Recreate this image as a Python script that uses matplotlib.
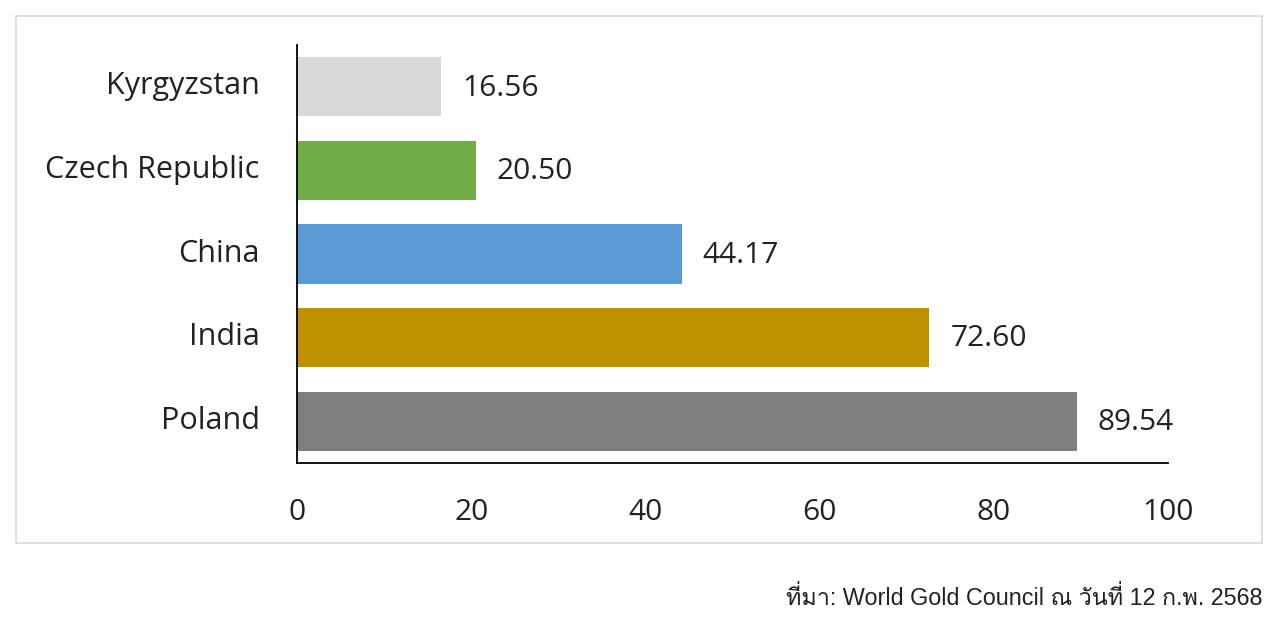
import matplotlib
matplotlib.use("Agg")
import matplotlib.pyplot as plt
import matplotlib.transforms as mtransforms
from matplotlib import font_manager
from matplotlib.patches import Rectangle

categories = ["Poland", "India", "China", "Czech Republic", "Kyrgyzstan"]
values = [89.54, 72.60, 44.17, 20.50, 16.56]
colors = ["#7F7F7F", "#BF9000", "#5B9BD5", "#70AD47", "#D9D9D9"]
xticks = [0, 20, 40, 60, 80, 100]
source_text = "ที่มา: World Gold Council ณ วันที่ 12 ก.พ. 2568"

# find a font with Thai coverage
thai_family = None
try:
    from fontTools.ttLib import TTFont
    for fe in font_manager.fontManager.ttflist:
        try:
            f = TTFont(fe.fname, fontNumber=0, lazy=True)
            cmap = f.getBestCmap()
            if cmap and 0x0E17 in cmap and 0x0E21 in cmap:
                thai_family = fe.name
                break
        except Exception:
            continue
except Exception:
    pass

main_font = ["Open Sans", "DejaVu Sans"]
foot_font = ["Liberation Sans"] + ([thai_family] if thai_family else []) + ["DejaVu Sans"]

fig = plt.figure(figsize=(12.8, 6.23), dpi=100)
fig.patch.set_facecolor("white")

# outer frame
fig.add_artist(Rectangle((16/1280, 1-543/623), (1262-16)/1280, (543-16)/623,
                         transform=fig.transFigure, fill=False,
                         edgecolor="#D9D9D9", linewidth=1.2))

ax = fig.add_axes([297/1280, 1-463/623, (1168-297)/1280, (463-45)/623])
y = list(range(len(categories)))
ax.barh(y, values, height=0.71, color=colors)
ax.set_xlim(0, 100)
ax.set_ylim(-0.5, len(categories) - 0.5)
ax.set_xticks(xticks)
ax.set_xticklabels([str(t) for t in xticks], fontsize=21.5, family=main_font, color="#222222")
ax.set_yticks(y)
ax.set_yticklabels(categories, fontsize=22, family=main_font, color="#222222")
ax.tick_params(axis="x", length=0, pad=25)
ax.tick_params(axis="y", length=0, pad=27)
up = mtransforms.ScaledTranslation(0, 4/100, fig.dpi_scale_trans)
for lab in ax.get_yticklabels():
    lab.set_transform(lab.get_transform() + up)
for s in ["top", "right"]:
    ax.spines[s].set_visible(False)
ax.spines["left"].set_linewidth(1.3)
ax.spines["bottom"].set_linewidth(1.3)
ax.spines["left"].set_color("black")
ax.spines["bottom"].set_color("black")

for yi, v in zip(y, values):
    ax.annotate(f"{v:.2f}", xy=(v, yi), xytext=(15, -1), textcoords="offset points",
                ha="left", va="center", fontsize=21.5, family=main_font, color="#222222")

fig.text(1262/1280, 1-598/623, source_text, ha="right", va="center",
         fontsize=16.8, family=foot_font, color="#222222")

fig.savefig("out.png", dpi=100, facecolor="white")
